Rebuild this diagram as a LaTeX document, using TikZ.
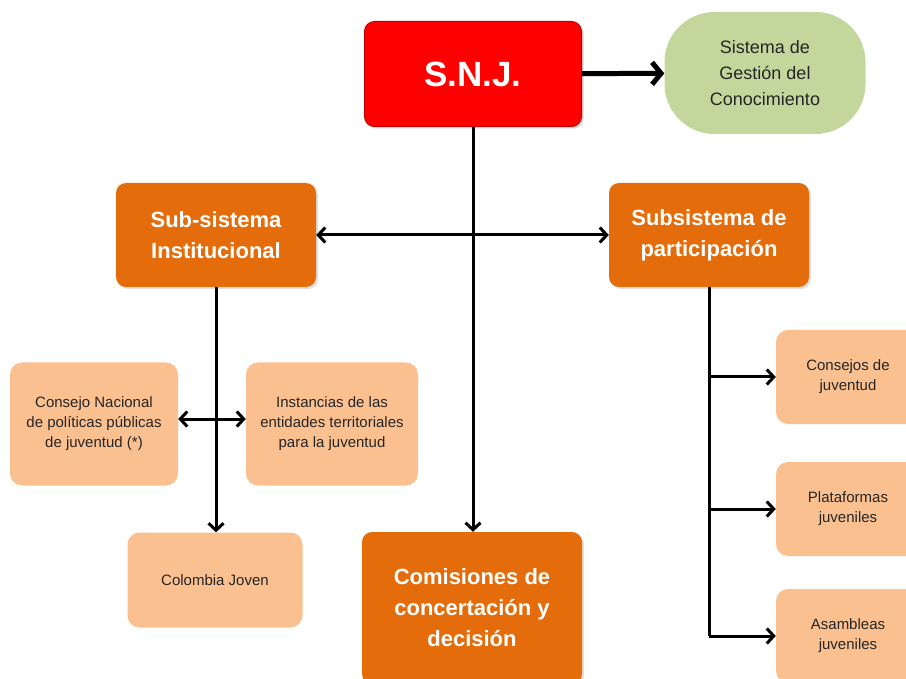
\documentclass[tikz,border=0pt]{standalone}
\usepackage{fontspec}
\setmainfont{Liberation Sans}
\usetikzlibrary{arrows.meta,positioning,shadows}
\definecolor{snjred}{HTML}{FF0000}
\definecolor{snjborder}{HTML}{C00000}
\definecolor{suborange}{HTML}{E46C0A}
\definecolor{itemorange}{HTML}{FAC090}
\definecolor{gestgreen}{HTML}{C3D69B}
\tikzset{
    myptr/.style={
        ->,
        >={Straight Barb[length=7pt,width=15pt]},
        line width=3pt
    },
    dblptr/.style={
        <->,
        >={Straight Barb[length=7pt,width=15pt]},
        line width=3pt
    },
    snjbox/.style={
        rounded corners=10pt, fill=snjred, draw=snjborder, line width=1pt,
        minimum width=217pt, minimum height=105pt,
        text=white, font=\bfseries\fontsize{35}{42}\selectfont,
        drop shadow={opacity=0.35, shadow xshift=2pt, shadow yshift=-2pt}
    },
    gestbox/.style={
        rounded corners=50pt, fill=gestgreen,
        minimum width=201pt, minimum height=122pt,
        align=center, text=black!85, font=\fontsize{18}{26}\selectfont
    },
    mainbox/.style={
        rounded corners=10pt, fill=suborange,
        minimum width=200pt, minimum height=104pt,
        align=center, text=white, font=\bfseries\fontsize{22}{31}\selectfont,
        drop shadow={opacity=0.25, shadow xshift=2pt, shadow yshift=-2pt}
    },
    itembox/.style={
        rounded corners=12pt, fill=itemorange,
        align=center, text=black!85, font=\fontsize{15}{20}\selectfont
    }
}
\begin{document}
\begin{tikzpicture}[x=1pt,y=-1pt]
    \clip (0,0) rectangle (906,679);

    % top level
    \node[snjbox] (snj) at (473,74) {S.N.J.};
    \node[gestbox] (gest) at (765,73) {Sistema de\\Gestión del\\Conocimiento};

    % sub-systems
    \node[mainbox] (inst) at (216,235) {Sub-sistema\\Institucional};
    \node[mainbox] (part) at (709,235) {Subsistema de\\participación};
    \node[mainbox, minimum width=220pt, minimum height=152pt] (comis) at (472,608) {Comisiones de\\concertación y\\decisión};

    % institutional side
    \node[itembox, minimum width=168pt, minimum height=123pt] (consejo) at (94,424) {Consejo Nacional\\de políticas públicas\\de juventud (*)};
    \node[itembox, minimum width=172pt, minimum height=123pt] (instancias) at (332,424) {Instancias de las\\entidades territoriales\\para la juventud};
    \node[itembox, minimum width=175pt, minimum height=95pt] (colombia) at (215,580) {Colombia Joven};

    % participation side
    \foreach \nm/\yy/\txt in {cons/377/{Consejos de\\juventud}, plat/509/{Plataformas\\juveniles}, asam/636/{Asambleas\\juveniles}}
    {
        \node[itembox, minimum width=144pt, minimum height=94pt] (\nm) at (848,\yy) {\txt};
    }

    % connectors
    \draw[->, >={Straight Barb[length=9pt,width=22pt]}, line width=5pt] (snj) -- (gest);
    \draw[myptr] (snj.south) -- (snj.south |- comis.north);
    \draw[dblptr] (inst.east) -- (inst.east -| part.west);
    \draw[myptr] (inst.south) -- (inst.south |- colombia.north);
    \draw[dblptr] ([yshift=5pt]consejo.east) -- ([yshift=5pt]instancias.west);
    \draw[line width=3pt] (part.south) -- (part.south |- asam.west);
    \foreach \nm in {cons, plat, asam}
    {
        \draw[myptr] (part.south |- \nm.west) -- (\nm.west);
    }
\end{tikzpicture}
\end{document}
